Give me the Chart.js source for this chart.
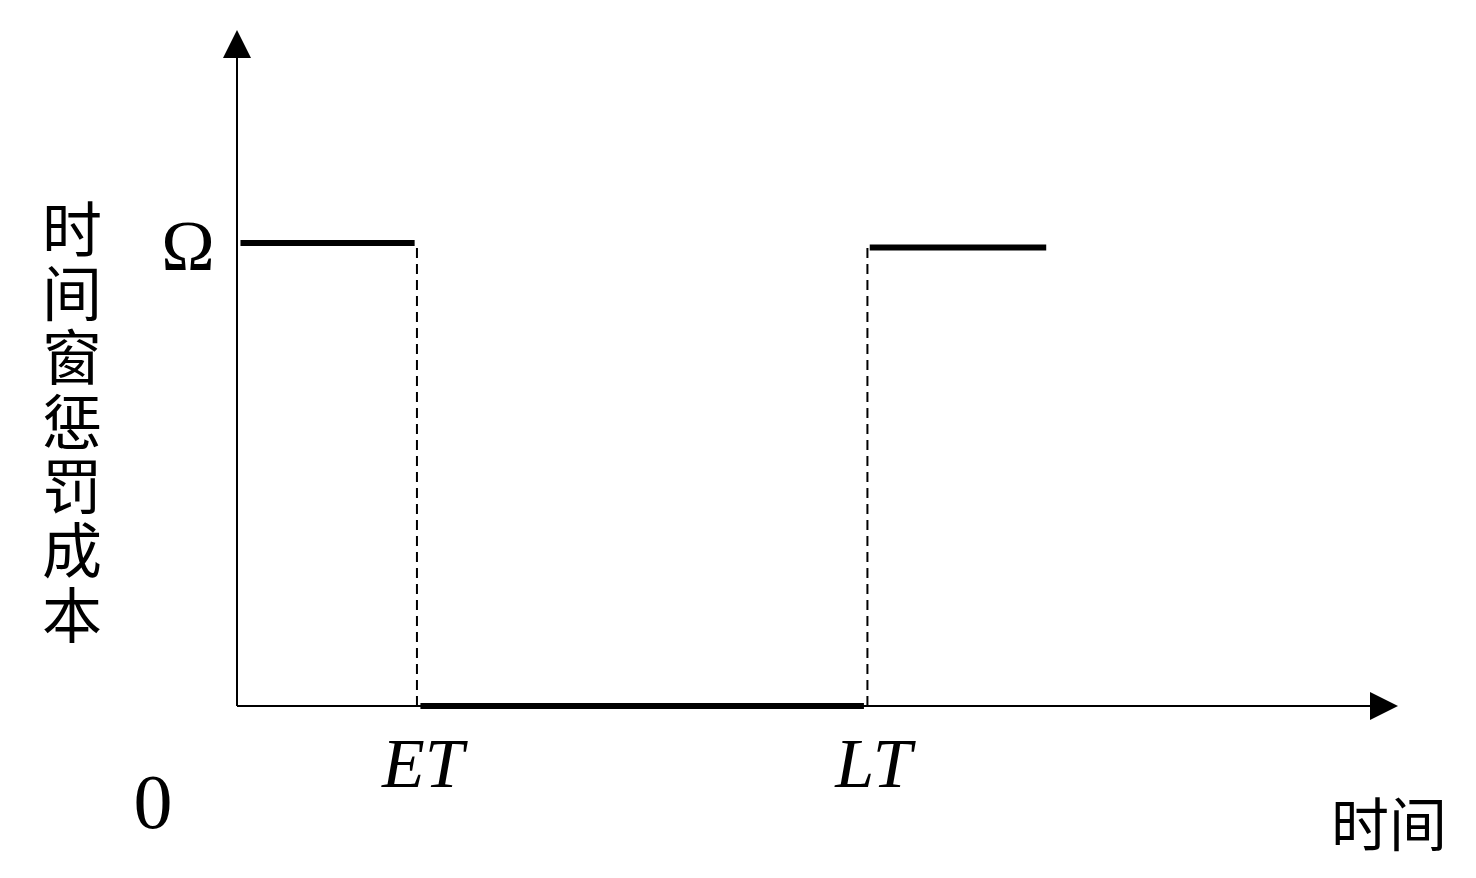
<!DOCTYPE html>
<html>
<head>
<meta charset="utf-8">
<script src="https://cdn.jsdelivr.net/npm/chart.js@4/dist/chart.umd.min.js"></script>
<style>
  html, body { margin: 0; padding: 0; background: #fff; }
  #wrap { width: 1476px; height: 878px; }
</style>
</head>
<body>
<div id="wrap"><canvas id="penaltyChart"></canvas></div>
<script>
// time window positions and penalty levels
const timeMarks = [1.55, 5.43];          // ET, LT
const timeEnd = 6.97;
const tickLabels = ['ET', 'LT'];
const penaltyLeft = 1;                   // Ω before ET
const penaltyInside = 0;                 // inside the window
const penaltyRight = 0.99;               // Ω after LT
const yTickLabel = 'Ω';
const xTitle = '时间';
const yTitle = '时间窗惩罚成本';

const serif = '"Liberation Serif", "Times New Roman", Times, serif';
const cjk = '"Noto Sans CJK SC", sans-serif';

const solid = (pts) => ({
  data: pts, borderColor: '#000', borderWidth: 6, pointRadius: 0,
  borderCapStyle: 'butt', fill: false, clip: false
});
const dashed = (pts) => ({
  data: pts, borderColor: '#000', borderWidth: 2, pointRadius: 0,
  borderDash: [10, 6], fill: false, clip: false
});

// axes, arrows and labels drawn on top of the hidden scales
const axesPlugin = {
  id: 'axesPlugin',
  afterDatasetsDraw(chart) {
    const { ctx, scales: { x, y } } = chart;
    const x0 = x.getPixelForValue(0), y0 = y.getPixelForValue(0);
    const xMax = x.getPixelForValue(x.max), yMax = y.getPixelForValue(y.max);
    ctx.save();
    ctx.strokeStyle = '#000';
    ctx.fillStyle = '#000';
    ctx.lineWidth = 2;
    ctx.beginPath();
    ctx.moveTo(x0, y0); ctx.lineTo(x0, yMax + 20);
    ctx.moveTo(x0, y0); ctx.lineTo(xMax - 20, y0);
    ctx.stroke();
    // arrow heads
    ctx.beginPath();
    ctx.moveTo(x0, yMax); ctx.lineTo(x0 - 14, yMax + 28); ctx.lineTo(x0 + 14, yMax + 28);
    ctx.closePath(); ctx.fill();
    ctx.beginPath();
    ctx.moveTo(xMax, y0); ctx.lineTo(xMax - 28, y0 - 14); ctx.lineTo(xMax - 28, y0 + 14);
    ctx.closePath(); ctx.fill();

    // tick labels
    ctx.textAlign = 'center';
    ctx.textBaseline = 'alphabetic';
    ctx.font = '72px ' + serif;
    ctx.fillText(yTickLabel, x0 - 49, y.getPixelForValue(penaltyLeft) + 27);
    ctx.font = '78px ' + serif;
    ctx.fillText('0', x0 - 84, y0 + 122);
    ctx.font = 'italic 70px ' + serif;
    timeMarks.forEach((v, i) => {
      ctx.fillText(tickLabels[i], x.getPixelForValue(v) + 6, y0 + 81);
    });

    // titles
    ctx.font = '58px ' + cjk;
    ctx.textBaseline = 'middle';
    ctx.fillText(xTitle, 1389, y0 + 118);
    ctx.font = '60px ' + cjk;
    Array.from(yTitle).forEach((ch, i) => {
      ctx.fillText(ch, 72, 229 + i * 64.3);
    });
    ctx.restore();
  }
};

new Chart(document.getElementById('penaltyChart'), {
  type: 'line',
  data: {
    datasets: [
      solid([{ x: 0.03, y: penaltyLeft }, { x: timeMarks[0] - 0.02, y: penaltyLeft }]),
      solid([{ x: timeMarks[0] + 0.03, y: penaltyInside }, { x: timeMarks[1] - 0.03, y: penaltyInside }]),
      solid([{ x: timeMarks[1] + 0.02, y: penaltyRight }, { x: timeEnd, y: penaltyRight }]),
      dashed([{ x: timeMarks[0], y: penaltyInside }, { x: timeMarks[0], y: penaltyLeft }]),
      dashed([{ x: timeMarks[1], y: penaltyInside }, { x: timeMarks[1], y: penaltyLeft }])
    ]
  },
  options: {
    responsive: true,
    maintainAspectRatio: false,
    animation: false,
    layout: { padding: { left: 237, top: 30, right: 78, bottom: 172 } },
    plugins: { legend: { display: false }, tooltip: { enabled: false } },
    scales: {
      x: { type: 'linear', min: 0, max: 10, display: false },
      y: { type: 'linear', min: 0, max: 1.46, display: false }
    }
  },
  plugins: [axesPlugin]
});
</script>
</body>
</html>
